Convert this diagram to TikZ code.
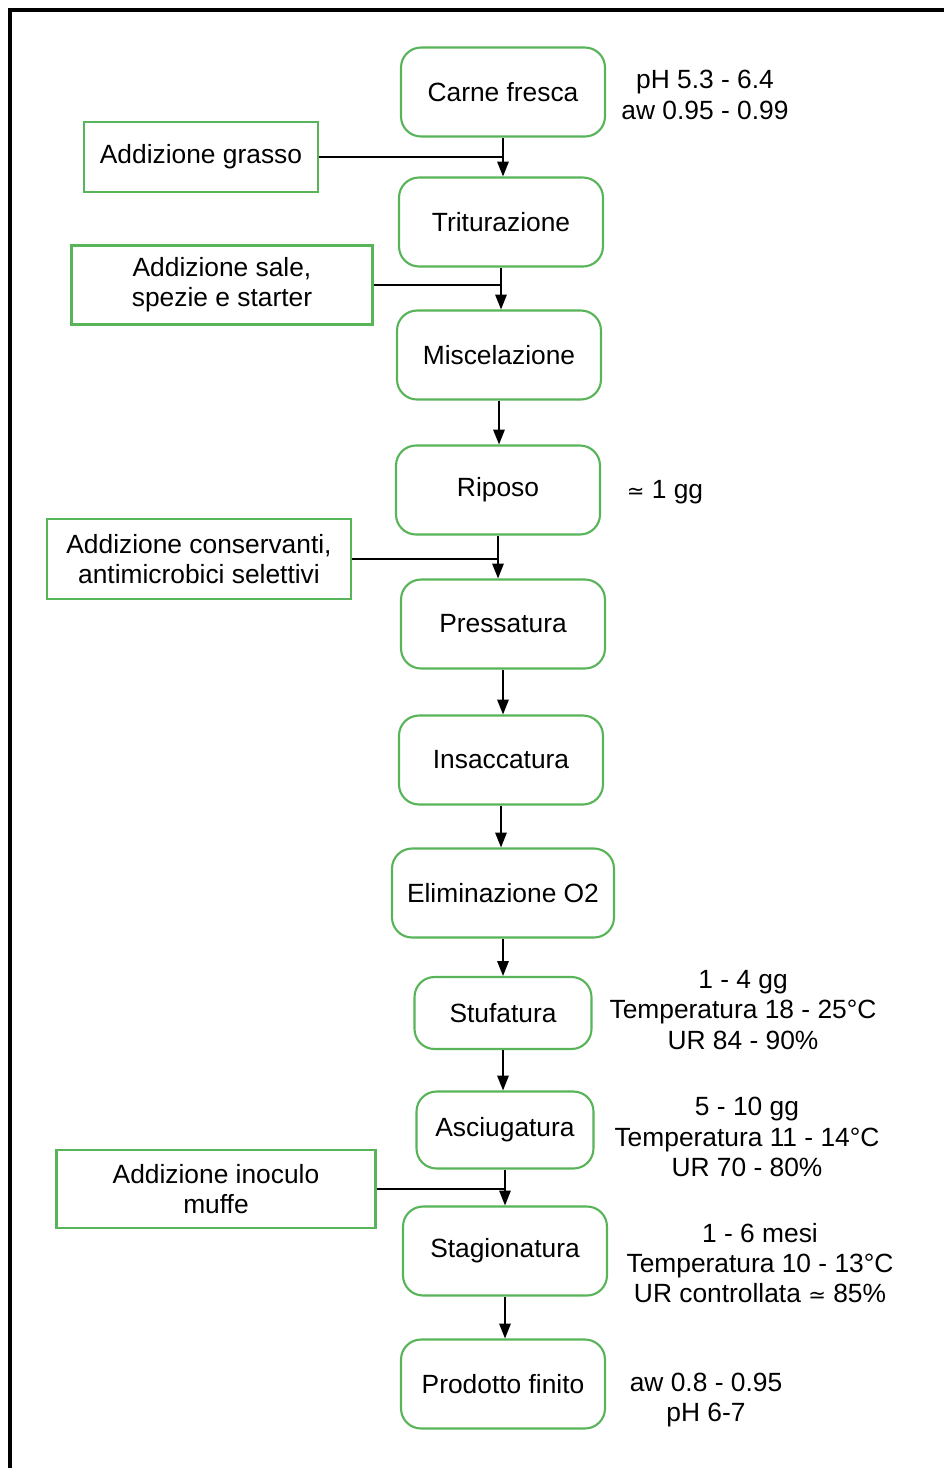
\documentclass[tikz,border=0pt]{standalone}
\usepackage{fontspec}
\setmainfont{Liberation Sans}
\newfontfamily\symfont{DejaVu Sans}
\usepackage{xcolor}
\usetikzlibrary{arrows.meta}
\definecolor{boxgreen}{RGB}{88,180,88}

\begin{document}
\begin{tikzpicture}[x=0.02cm,y=-0.02cm,>={Triangle[width=6.5pt,length=8.5pt]},line width=1pt,font=\fontsize{15}{17.2}\selectfont]
  \tikzstyle{stage}=[draw=boxgreen, line width=1.2pt, rounded corners=0.4cm, minimum width=4.08cm, minimum height=1.78cm, align=center]
  \tikzstyle{inbox}=[draw=boxgreen, line width=1.2pt, align=center]
  \tikzstyle{note}=[align=center]
  \useasboundingbox (0,0) rectangle (944,1468);
  \draw[line width=1.8pt] (10,1468) -- (10,10) -- (944,10);
  % main column
  \node[stage] (carne) at (503,92) {Carne fresca};
  \node[stage] (trit) at (501,222) {Triturazione};
  \node[stage] (misc) at (499,355) {Miscelazione};
  \node[stage] (rip) at (498,490) {Riposo};
  \node[stage] (press) at (503,624) {Pressatura};
  \node[stage] (insac) at (501,760) {Insaccatura};
  \node[stage, minimum width=4.44cm] (elim) at (503,893) {Eliminazione O2};
  \node[stage, minimum width=3.54cm, minimum height=1.44cm] (stuf) at (503,1013) {Stufatura};
  \node[stage, minimum width=3.54cm, minimum height=1.54cm] (asciu) at (505,1130) {Asciugatura};
  \node[stage] (stag) at (505,1251) {Stagionatura};
  \node[stage] (prod) at (503,1384) {Prodotto finito};
  % additions
  \node[inbox, minimum width=4.68cm, minimum height=1.4cm] (grasso) at (201,157) {Addizione grasso};
  \node[inbox, minimum width=6.02cm, minimum height=1.58cm] (sale) at (222,285) {Addizione sale,\\spezie e starter};
  \node[inbox, minimum width=6.08cm, minimum height=1.6cm] (cons) at (199,559) {Addizione conservanti,\\antimicrobici selettivi};
  \node[inbox, minimum width=6.38cm, minimum height=1.56cm] (muffe) at (216,1189) {Addizione inoculo\\muffe};
  % notes
  \node[note] (ncarne) at (705,95) {pH 5.3 - 6.4\\aw 0.95 - 0.99};
  \node[note] (nrip) at (665,492) {{\symfont\fontsize{12}{14}\selectfont ≃} 1 gg};
  \node[note] (nstuf) at (743,1010) {1 - 4 gg\\Temperatura 18 - 25°C\\UR 84 - 90\%};
  \node[note] (nasciu) at (747,1137) {5 - 10 gg\\Temperatura 11 - 14°C\\UR 70 - 80\%};
  \node[note] (nstag) at (760,1263) {1 - 6 mesi\\Temperatura 10 - 13°C\\UR controllata {\symfont\fontsize{12}{14}\selectfont ≃} 85\%};
  \node[note] (nprod) at (706,1400) {aw 0.8 - 0.95\\pH 6-7};
  \foreach \a/\b in {carne/trit, trit/misc, misc/rip, rip/press, press/insac, insac/elim, elim/stuf, stuf/asciu, asciu/stag, stag/prod}
    \draw[->] (\a.south) -- (\a.south |- \b.north);
  \draw (grasso.east) -- (grasso.east -| carne.south);
  \draw (sale.east) -- (sale.east -| trit.south);
  \draw (cons.east) -- (cons.east -| rip.south);
  \draw (muffe.east) -- (muffe.east -| asciu.south);
\end{tikzpicture}
\end{document}
